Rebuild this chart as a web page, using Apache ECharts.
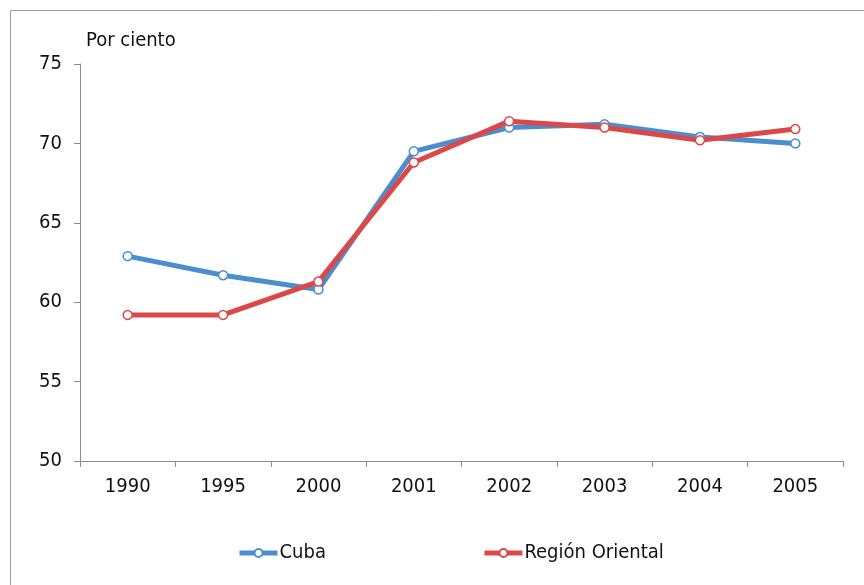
<!DOCTYPE html>
<html>
<head>
<meta charset="utf-8">
<script src="https://cdn.jsdelivr.net/npm/echarts@6/dist/echarts.min.js"></script>
<style>
  html, body { margin: 0; padding: 0; background: #fff; }
  #chart { width: 864px; height: 585px; }
</style>
</head>
<body>
<div id="chart"></div>
<script>
// datos
var years = ['1990', '1995', '2000', '2001', '2002', '2003', '2004', '2005'];
var cuba = [62.9, 61.7, 60.8, 69.5, 71.0, 71.2, 70.4, 70.0];
var oriental = [59.2, 59.2, 61.3, 68.8, 71.4, 71.0, 70.2, 70.9];
var yTicks = [50, 55, 60, 65, 70, 75];

var font = '"Liberation Sans Narrow", "DejaVu Sans Condensed", sans-serif';
var axisColor = '#8c8c8c';
var blue = '#4a8ed0';
var red = '#dc4848';

var myChart = echarts.init(document.getElementById('chart'));

function lineSeries(name, data, color) {
    return {
        name: name,
        type: 'line',
        data: data,
        symbol: 'circle',
        symbolSize: 9,
        lineStyle: { color: color, width: 5 },
        itemStyle: { color: '#fff', borderColor: color, borderWidth: 1.5 },
        emphasis: { disabled: true }
    };
}

var option = {
    animation: false,
    textStyle: { fontFamily: font },
    graphic: [{
        type: 'rect',
        shape: { x: 10.5, y: 10.5, width: 870, height: 590 },
        style: { fill: 'none', stroke: '#a0a0a0', lineWidth: 1 },
        silent: true
    }, {
        type: 'text',
        left: 86,
        top: 31,
        style: { text: 'Por ciento', fontSize: 20, fontFamily: font, fill: '#111' }
    }],
    legend: {
        top: 538,
        left: 232,
        itemGap: 156,
        itemWidth: 38,
        itemHeight: 10,
        lineStyle: { width: 5 },
        textStyle: { fontSize: 20, color: '#111', fontFamily: font, padding: [0, 0, 0, -3] },
        data: ['Cuba', 'Región Oriental']
    },
    grid: {
        left: 80,
        right: 21,
        top: 64,
        bottom: 124,
        containLabel: false
    },
    xAxis: {
        type: 'category',
        data: years,
        boundaryGap: true,
        axisLine: { lineStyle: { color: axisColor, width: 1 } },
        axisTick: { show: true, length: 6, lineStyle: { color: axisColor } },
        axisLabel: { fontSize: 20, color: '#111', margin: 16, fontFamily: font },
        splitLine: { show: false }
    },
    yAxis: {
        type: 'value',
        min: yTicks[0],
        max: yTicks[yTicks.length - 1],
        interval: 5,
        axisLine: { show: true, lineStyle: { color: axisColor, width: 1 } },
        axisTick: { show: true, length: 6, lineStyle: { color: axisColor } },
        axisLabel: { fontSize: 20, color: '#111', margin: 18, fontFamily: font },
        splitLine: { show: false }
    },
    series: [
        lineSeries('Cuba', cuba, blue),
        lineSeries('Región Oriental', oriental, red)
    ]
};

myChart.setOption(option);
window.onresize = myChart.resize;
</script>
</body>
</html>
